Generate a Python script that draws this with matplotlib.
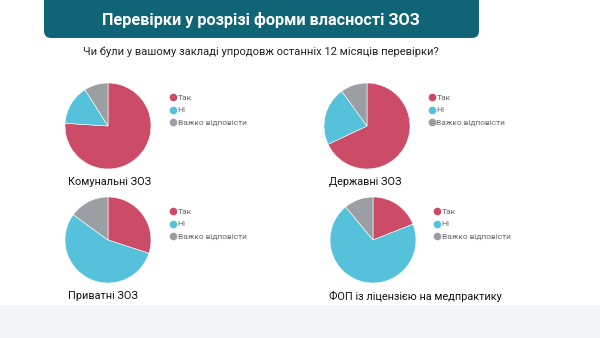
import matplotlib.pyplot as plt
from matplotlib.patches import FancyBboxPatch, Rectangle
from matplotlib.lines import Line2D

plt.rcParams['font.family'] = ['Roboto', 'DejaVu Sans']

# data
title = "Перевірки у розрізі форми власності ЗОЗ"
question = "Чи були у вашому закладі упродовж останніх 12 місяців перевірки?"
categories = ["Так", "Ні", "Важко відповісти"]
groups = ["Комунальні ЗОЗ", "Державні ЗОЗ", "Приватні ЗОЗ", "ФОП із ліцензією на медпрактику"]
komunalni = [76, 15, 9]
derzhavni = [68, 22, 10]
pryvatni = [30, 55, 15]
fop = [19, 70, 11]
colors = ["#cc4b66", "#56c1da", "#9b9fa3"]

W, H = 600, 338
fig = plt.figure(figsize=(6, 3.38), dpi=100)

def fx(x):
    return x / W

def fy(y):
    return 1 - y / H

# header banner
banner = FancyBboxPatch((fx(44), fy(38)), fx(479) - fx(44), fy(0) - fy(38) + 0.02,
                        boxstyle="round,pad=0,rounding_size=0.012",
                        transform=fig.transFigure, facecolor="#0f6475",
                        edgecolor="none", mutation_aspect=W / H)
fig.patches.append(banner)
fig.text(fx(261), fy(20), title, color="white", fontsize=11.7, fontweight="bold",
         ha="center", va="center")
fig.text(fx(261), fy(52), question, color="#222222", fontsize=8.0,
         ha="center", va="center")

# bottom grey band
fig.patches.append(Rectangle((0, 0), 1, fy(305), transform=fig.transFigure,
                             facecolor="#f3f4f7", edgecolor="none"))

values = [komunalni, derzhavni, pryvatni, fop]
# layout: pie centre, legend anchor, label position (pixels)
layout = [
    ((108, 126), (170, 94), (68, 182)),
    ((367, 126), (429, 94), (329, 182)),
    ((108, 240), (170, 208), (68, 296)),
    ((373, 240), (434, 208), (329, 296)),
]
r = 43

handles = [Line2D([], [], marker="o", linestyle="none", markersize=4.5,
                  markerfacecolor=c, markeredgecolor=c) for c in colors]

for name, vals, ((cx, cy), (lx, ly), (tx, ty)) in zip(groups, values, layout):
    ax = fig.add_axes([fx(cx - r), fy(cy + r), fx(2 * r), (2 * r) / H])
    ax.pie(vals, colors=colors, startangle=90, counterclock=False,
           wedgeprops=dict(edgecolor="white", linewidth=0.4))
    ax.set_xlim(-1, 1)
    ax.set_ylim(-1, 1)
    fig.legend(handles, categories, loc="upper left",
               bbox_to_anchor=(fx(lx), fy(ly)), frameon=False,
               fontsize=6, labelcolor="#666666", handlelength=0.6,
               handletextpad=0.3, labelspacing=0.7, borderpad=0,
               borderaxespad=0)
    fig.text(fx(tx), fy(ty), name, fontsize=7.8, color="#111111",
             ha="left", va="center")

fig.savefig("out.png", dpi=100)
